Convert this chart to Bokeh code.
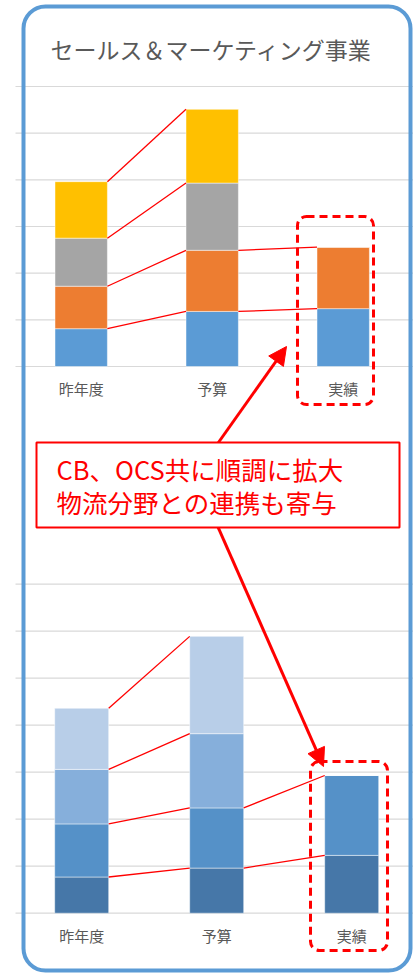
from bokeh.plotting import figure
from bokeh.models import Range1d, BoxAnnotation, Arrow, NormalHead, Label, ColumnDataSource
from bokeh.core.properties import value
from bokeh.embed import file_html
from bokeh.resources import INLINE

# ---------------- data ----------------
categories = ["昨年度", "予算", "実績"]

top_s1 = [0.81, 1.18, 1.24]
top_s2 = [0.91, 1.31, 1.32]
top_s3 = [1.03, 1.44, 0.0]
top_s4 = [1.21, 1.58, 0.0]
top_ticks = [0, 1, 2, 3, 4, 5, 6]

bot_s1 = [0.77, 0.96, 1.23]
bot_s2 = [1.13, 1.28, 1.70]
bot_s3 = [1.16, 1.58, 0.0]
bot_s4 = [1.30, 2.07, 0.0]
bot_ticks = [0, 1, 2, 3, 4, 5, 6, 7]

title_text = "セールス＆マーケティング事業"
note_lines = ["CB、OCS共に順調に拡大", "物流分野との連携も寄与"]

top_colors = ["#5B9BD5", "#ED7D31", "#A5A5A5", "#FFC000"]
bot_colors = ["#4677A8", "#5591C8", "#86AFDB", "#B8CEE8"]

FONT = "Noto Sans CJK JP"
W, H = 413, 973
BAR_W = 0.4

p = figure(width=W, height=H, x_range=Range1d(0, W), y_range=Range1d(H, 0),
           output_backend="svg", toolbar_location=None,
           x_axis_location=None, y_axis_location=None, min_border=0,
           margin=(0, 0, 0, 0))
p.grid.visible = False
p.outline_line_color = None
p.background_fill_color = "white"
p.border_fill_color = "white"

# chart ranges (layout: where each chart sits in the page)
p.extra_x_ranges = {
    "tx": Range1d(-80.7 / 131, (W - 80.7) / 131),
    "bx": Range1d(-81.2 / 135, (W - 81.2) / 135),
}
p.extra_y_ranges = {
    "ty": Range1d(-(H - 366) / 46.67, 366 / 46.67),
    "by": Range1d(-(H - 912.7) / 47.0, 912.7 / 47.0),
}


def draw_chart(xr, yr, ticks, series_vals, colors, label_y):
    # gridlines
    p.segment(x0=15, x1=W, y0=ticks, y1=ticks, y_range_name=yr,
              line_color="#D9D9D9", line_width=1.2)
    data = {"x": list(range(len(categories)))}
    names = []
    for k, vals in enumerate(series_vals):
        data[f"s{k}"] = vals
        names.append(f"s{k}")
    src = ColumnDataSource(data)
    p.vbar_stack(names, x="x", width=BAR_W, color=colors, source=src,
                 x_range_name=xr, y_range_name=yr,
                 line_color="white", line_width=0.8, line_alpha=0.6)
    # connector lines between cumulative tops
    xs0, xs1, ys0, ys1 = [], [], [], []
    for i in range(len(categories) - 1):
        c0 = c1 = 0.0
        for vals in series_vals:
            c0 += vals[i]
            c1 += vals[i + 1]
            if vals[i] > 0 and vals[i + 1] > 0:
                xs0.append(i + BAR_W / 2)
                xs1.append(i + 1 - BAR_W / 2)
                ys0.append(c0)
                ys1.append(c1)
    p.segment(x0=xs0, x1=xs1, y0=ys0, y1=ys1, x_range_name=xr, y_range_name=yr,
              line_color="#FF0000", line_width=1.3)
    # category labels
    p.text(x=list(range(len(categories))), y=[label_y] * len(categories), text=categories,
           x_range_name=xr, text_align="center", text_baseline="middle",
           text_font=value(FONT), text_font_size="15px", text_color="#595959")


draw_chart("tx", "ty", top_ticks, [top_s1, top_s2, top_s3, top_s4], top_colors, 388)
draw_chart("bx", "by", bot_ticks, [bot_s1, bot_s2, bot_s3, bot_s4], bot_colors, 935)

# dashed highlight boxes
for (l, r, t, b) in [(297, 373, 216, 404), (310, 387, 761, 950)]:
    p.add_layout(BoxAnnotation(left=l, right=r, top=t, bottom=b, fill_alpha=0,
                               line_color="#FF0000", line_alpha=1, line_width=3,
                               line_dash="8 5", border_radius=9))

# arrows (start inside the note box)
for (xs, ys, xe, ye) in [(191, 480, 286, 346), (208, 505, 323, 766)]:
    p.add_layout(Arrow(end=NormalHead(size=18, fill_color="#FF0000", line_color="#FF0000"),
                       x_start=xs, y_start=ys, x_end=xe, y_end=ye,
                       line_color="#FF0000", line_width=3))

# note box
p.add_layout(BoxAnnotation(left=36, right=399, top=442, bottom=527, fill_color="white",
                           fill_alpha=1, line_color="#FF0000", line_alpha=1, line_width=2))
for txt, yy in zip(note_lines, [468, 501]):
    p.add_layout(Label(x=56, y=yy, text=txt, text_font=FONT, text_font_size="25.5px",
                       text_color="#FF0000", text_baseline="middle", text_align="left"))

# title
p.add_layout(Label(x=211, y=48, text=title_text, text_font=FONT, text_font_size="23px",
                   text_color="#595959", text_baseline="middle", text_align="center"))

# outer rounded frame
p.add_layout(BoxAnnotation(left=23, right=410, top=6, bottom=970, fill_alpha=0,
                           line_color="#5B9BD5", line_alpha=1, line_width=4,
                           border_radius=22))

open("out.html", "w").write(file_html(p, INLINE))
